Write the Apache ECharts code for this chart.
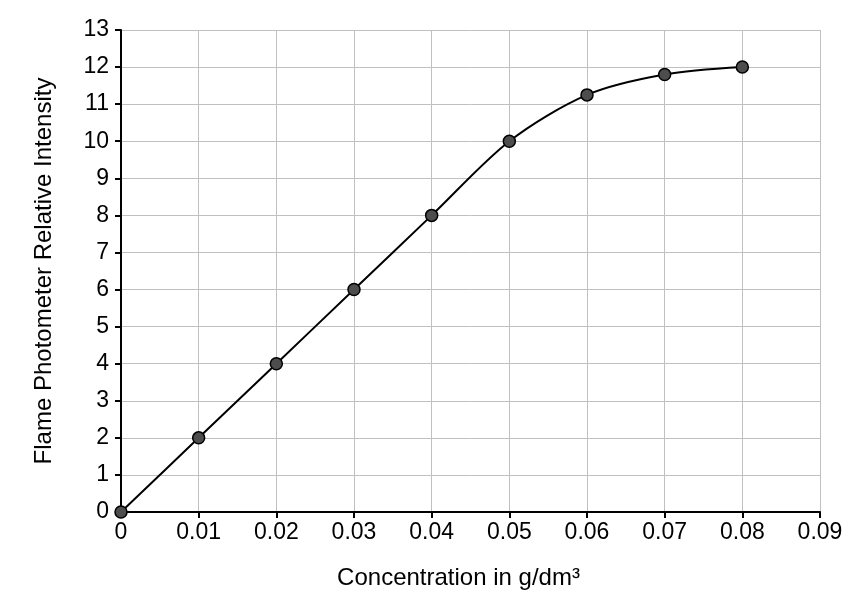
<!DOCTYPE html>
<html><head><meta charset="utf-8">
<script src="https://cdn.jsdelivr.net/npm/echarts@6/dist/echarts.min.js"></script>
<style>html,body{margin:0;padding:0;background:#fff}#c{width:854px;height:616px}</style>
</head><body><div id="c"></div>
<script>
const concentration = [0, 0.01, 0.02, 0.03, 0.04, 0.05, 0.06, 0.07, 0.08];
const intensity = [0, 2, 4, 6, 8, 10, 11.25, 11.8, 12];
const xTitle = 'Concentration in g/dm³';
const yTitle = 'Flame Photometer Relative Intensity';

const chart = echarts.init(document.getElementById('c'));
const font = 'Liberation Sans, Arial, sans-serif';
chart.setOption({
  animation: false,
  grid: {left: 121, right: 34, top: 30, bottom: 104, containLabel: false},
  xAxis: {
    type: 'value', min: 0, max: 0.09, interval: 0.01,
    name: xTitle, nameLocation: 'middle', nameGap: 54,
    nameTextStyle: {fontFamily: font, fontSize: 24, color: '#000', padding: [0, 24, 0, 0]},
    axisLine: {show: true, onZero: false, lineStyle: {color: '#000', width: 2}},
    axisTick: {show: true, length: 6, lineStyle: {color: '#000', width: 2}},
    axisLabel: {fontFamily: font, fontSize: 23, color: '#000', margin: 9,
      formatter: v => String(Math.round(v * 100) / 100)},
    splitLine: {show: true, lineStyle: {color: '#c0c0c0', width: 1}}
  },
  yAxis: {
    type: 'value', min: 0, max: 13, interval: 1,
    name: yTitle, nameLocation: 'middle', nameGap: 65, nameRotate: 90,
    nameTextStyle: {fontFamily: font, fontSize: 24, color: '#000'},
    axisLine: {show: true, onZero: false, lineStyle: {color: '#000', width: 2}},
    axisTick: {show: true, length: 6, lineStyle: {color: '#000', width: 2}},
    axisLabel: {fontFamily: font, fontSize: 23, color: '#000', margin: 12},
    splitLine: {show: true, lineStyle: {color: '#c0c0c0', width: 1}}
  },
  series: [{
    type: 'line',
    data: concentration.map((x, i) => [x, intensity[i]]),
    smooth: 0.3,
    symbol: 'circle', symbolSize: 12,
    itemStyle: {color: '#4d4d4d', borderColor: '#000', borderWidth: 1.5},
    lineStyle: {color: '#000', width: 2},
    z: 5
  }]
});
</script>
</body></html>
